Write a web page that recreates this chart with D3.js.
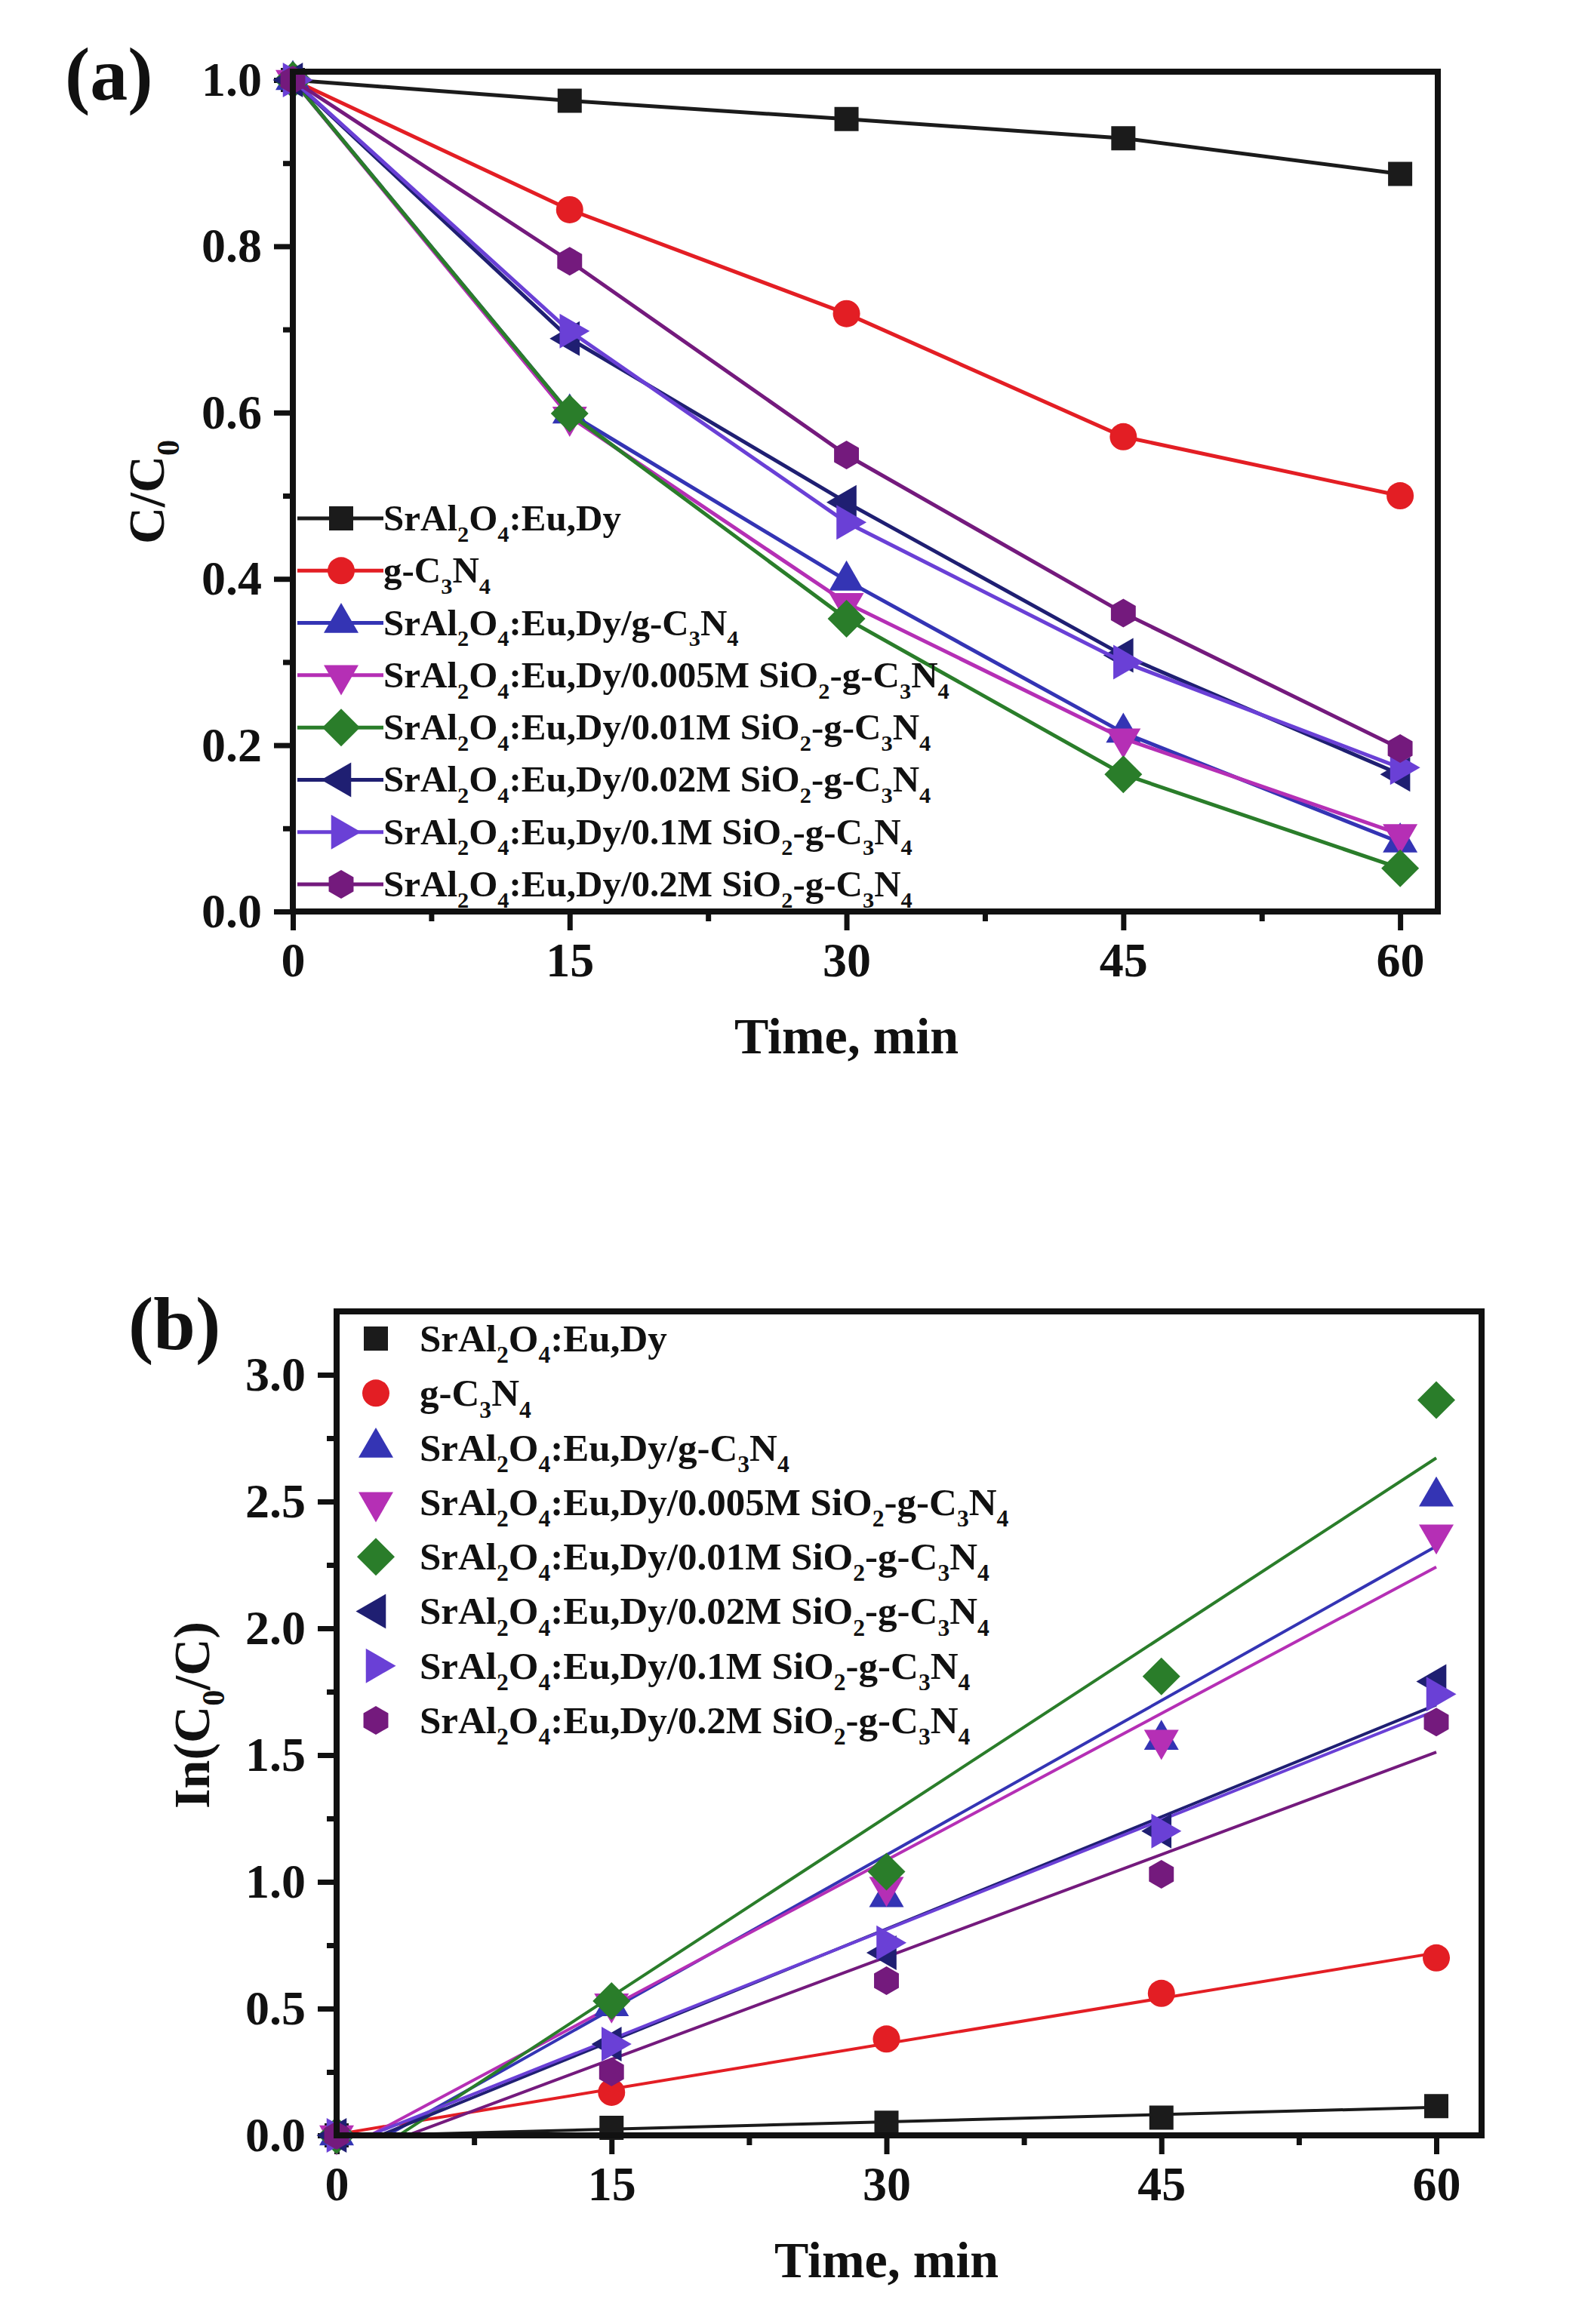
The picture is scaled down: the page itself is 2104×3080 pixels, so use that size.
<!DOCTYPE html>
<html lang="en">
<head>
<meta charset="UTF-8">
<title>Photocatalytic degradation kinetics</title>
<script src="https://d3js.org/d3.v7.min.js"></script>
<style>
    body { margin: 0; background: #fff; }
    text { font-family: "Liberation Serif", "Times New Roman", serif; font-weight: bold; fill: #111; }
    .tick line { stroke: #111; stroke-width: 7px; }
</style>
</head>
<body>
<svg id="chart" width="2104" height="3080"></svg>
<script>
// ---- data ----
var time = [0, 15, 30, 45, 60];
var xTicks = [0, 15, 30, 45, 60];
var xMinor = [7.5, 22.5, 37.5, 52.5];

var seriesNames = [
    "SrAl_2O_4:Eu,Dy",
    "g-C_3N_4",
    "SrAl_2O_4:Eu,Dy/g-C_3N_4",
    "SrAl_2O_4:Eu,Dy/0.005M SiO_2-g-C_3N_4",
    "SrAl_2O_4:Eu,Dy/0.01M SiO_2-g-C_3N_4",
    "SrAl_2O_4:Eu,Dy/0.02M SiO_2-g-C_3N_4",
    "SrAl_2O_4:Eu,Dy/0.1M SiO_2-g-C_3N_4",
    "SrAl_2O_4:Eu,Dy/0.2M SiO_2-g-C_3N_4"
];
var colors = ["#1b1b1b", "#e31e24", "#3434b4", "#b52fb5", "#2a7d2a", "#1f1f72", "#6a40d6", "#741a7d"];
var shapes = ["square", "circle", "up", "down", "diamond", "left", "right", "hexagon"];

// (a) C/C0 vs time
var ratioSrAl   = [1.0, 0.975, 0.953, 0.930, 0.887];
var ratioGCN    = [1.0, 0.844, 0.719, 0.571, 0.500];
var ratioComp   = [1.0, 0.599, 0.398, 0.215, 0.083];
var ratio005    = [1.0, 0.595, 0.371, 0.208, 0.093];
var ratio01     = [1.0, 0.599, 0.352, 0.165, 0.052];
var ratio02     = [1.0, 0.689, 0.492, 0.308, 0.165];
var ratio1      = [1.0, 0.698, 0.468, 0.300, 0.173];
var ratio2      = [1.0, 0.782, 0.549, 0.359, 0.196];
var yTicksA = [0, 0.2, 0.4, 0.6, 0.8, 1.0];
var yMinorA = [0.1, 0.3, 0.5, 0.7, 0.9];

// (b) ln(C0/C) vs time, with linear fits
var lnSrAl = [0, 0.03, 0.05, 0.07, 0.115];
var lnGCN  = [0, 0.17, 0.38, 0.56, 0.70];
var lnComp = [0, 0.51, 0.94, 1.56, 2.52];
var ln005  = [0, 0.52, 0.98, 1.56, 2.37];
var ln01   = [0, 0.53, 1.04, 1.81, 2.90];
var ln02   = [0, 0.36, 0.72, 1.20, 1.79];
var ln1    = [0, 0.36, 0.76, 1.20, 1.74];
var ln2    = [0, 0.25, 0.61, 1.03, 1.63];
var fitSlope     = [0.00191, 0.01193, 0.0406, 0.03853, 0.0472, 0.02947, 0.0288, 0.02693];
var fitIntercept = [-0.004, 0.004, -0.112, -0.070, -0.160, -0.070, -0.052, -0.104];
var yTicksB = [0, 0.5, 1.0, 1.5, 2.0, 2.5, 3.0];
var yMinorB = [0.25, 0.75, 1.25, 1.75, 2.25, 2.75];

var svg = d3.select("#chart");

// marker outline centred on 0,0
function markerPath(shape) {
    var p;
    if (shape === "square") return "M-16,-16H16V16H-16Z";
    if (shape === "circle") return "M18,0A18,18 0 1,1 -18,0A18,18 0 1,1 18,0Z";
    if (shape === "diamond") return "M0,-25L25,0L0,25L-25,0Z";
    if (shape === "hexagon") {
        p = d3.range(6).map(function (k) {
            var a = (-90 + 60 * k) * Math.PI / 180;
            return [19 * Math.cos(a), 19 * Math.sin(a)];
        });
        return "M" + p.join("L") + "Z";
    }
    // triangles: half width 23, centred on centroid
    var a = 23, h = a * Math.sqrt(3);
    p = [[0, -2 * h / 3], [a, h / 3], [-a, h / 3]];
    var rot = { up: 0, down: 180, left: -90, right: 90 }[shape];
    var r = rot * Math.PI / 180;
    p = p.map(function (q) {
        return [q[0] * Math.cos(r) - q[1] * Math.sin(r), q[0] * Math.sin(r) + q[1] * Math.cos(r)];
    });
    return "M" + p.join("L") + "Z";
}

// text with "_n" subscripts
function richText(sel, str, fs) {
    var parts = str.split(/_(\d)/);
    var down = false;
    parts.forEach(function (part, i) {
        if (!part) return;
        var t = sel.append("tspan").text(part);
        if (i % 2) {
            t.attr("font-size", fs * 0.62).attr("dy", down ? 0 : fs * 0.3);
            down = true;
        } else if (down) {
            t.attr("dy", -fs * 0.3);
            down = false;
        }
    });
}

function panel(cfg) {
    var g = svg.append("g");
    var x = d3.scaleLinear().domain(cfg.xDomain).range([cfg.left, cfg.right]);
    var y = d3.scaleLinear().domain(cfg.yDomain).range([cfg.bottom, cfg.top]);

    var clipId = "clip" + cfg.id;
    g.append("clipPath").attr("id", clipId)
        .append("rect")
        .attr("x", cfg.left).attr("y", cfg.top)
        .attr("width", cfg.right - cfg.left).attr("height", cfg.bottom - cfg.top);

    // axes: minor then major ticks, outward
    g.append("g").attr("transform", "translate(0," + cfg.bottom + ")")
        .call(d3.axisBottom(x).tickValues(xMinor).tickSize(13).tickFormat(""))
        .call(function (a) { a.select(".domain").remove(); });
    g.append("g").attr("transform", "translate(0," + cfg.bottom + ")")
        .call(d3.axisBottom(x).tickValues(xTicks).tickSize(25).tickPadding(16).tickFormat(d3.format("d")))
        .call(function (a) {
            a.select(".domain").remove();
            a.selectAll("text").attr("font-size", 64).attr("font-family", null).style("fill", "#111");
        });
    g.append("g").attr("transform", "translate(" + cfg.left + ",0)")
        .call(d3.axisLeft(y).tickValues(cfg.yMinor).tickSize(13).tickFormat(""))
        .call(function (a) { a.select(".domain").remove(); });
    g.append("g").attr("transform", "translate(" + cfg.left + ",0)")
        .call(d3.axisLeft(y).tickValues(cfg.yTicks).tickSize(25).tickPadding(16).tickFormat(d3.format(".1f")))
        .call(function (a) {
            a.select(".domain").remove();
            a.selectAll("text").attr("font-size", 64).attr("font-family", null).style("fill", "#111");
        });

    cfg.draw(g, x, y, "url(#" + clipId + ")");

    // frame
    g.append("rect")
        .attr("x", cfg.left).attr("y", cfg.top)
        .attr("width", cfg.right - cfg.left).attr("height", cfg.bottom - cfg.top)
        .attr("fill", "none").attr("stroke", "#111").attr("stroke-width", 8);

    // titles
    g.append("text").attr("x", cfg.panelX).attr("y", cfg.panelY)
        .attr("font-size", 100).text(cfg.panelLabel);
    g.append("text")
        .attr("x", (x(0) + x(60)) / 2).attr("y", cfg.bottom + 188)
        .attr("text-anchor", "middle").attr("font-size", 68).text("Time, min");
    var yl = g.append("text")
        .attr("transform", "translate(" + cfg.yLabelX + "," + cfg.yLabelY + ") rotate(-90)")
        .attr("text-anchor", "middle").attr("font-size", 68);
    richText(yl, cfg.yLabel, 68);
}

// ---- panel (a) ----
var ratios = [ratioSrAl, ratioGCN, ratioComp, ratio005, ratio01, ratio02, ratio1, ratio2];
panel({
    id: "a", left: 388, right: 1905, top: 95, bottom: 1208,
    xDomain: [0, 62.04], yDomain: [0, 1.01],
    yTicks: yTicksA, yMinor: yMinorA,
    panelLabel: "(a)", panelX: 86, panelY: 132,
    yLabel: "C/C_0", yLabelX: 217, yLabelY: 652,
    draw: function (g, x, y, clip) {
        var line = d3.line().x(function (d, i) { return x(time[i]); }).y(function (d) { return y(d); });
        ratios.forEach(function (vals, s) {
            g.append("path").datum(vals).attr("d", line)
                .attr("fill", "none").attr("stroke", colors[s]).attr("stroke-width", 5);
            g.selectAll(null).data(vals).enter().append("path")
                .attr("d", markerPath(shapes[s]))
                .attr("transform", function (d, i) { return "translate(" + x(time[i]) + "," + y(d) + ")"; })
                .attr("fill", colors[s]);
        });
        // legend with line + marker
        var rowY = d3.scaleLinear().domain([0, 7]).range([687, 1172]);
        seriesNames.forEach(function (name, s) {
            var ly = rowY(s);
            g.append("line").attr("x1", 394).attr("x2", 508).attr("y1", ly).attr("y2", ly)
                .attr("stroke", colors[s]).attr("stroke-width", 5);
            g.append("path").attr("d", markerPath(shapes[s]))
                .attr("transform", "translate(452," + ly + ")").attr("fill", colors[s]);
            var t = g.append("text").attr("x", 508).attr("y", ly + 16).attr("font-size", 49);
            richText(t, name, 49);
        });
    }
});

// ---- panel (b) ----
var lns = [lnSrAl, lnGCN, lnComp, ln005, ln01, ln02, ln1, ln2];
panel({
    id: "b", left: 446, right: 1963, top: 1738, bottom: 2830,
    xDomain: [0, 62.47], yDomain: [0, 3.25],
    yTicks: yTicksB, yMinor: yMinorB,
    panelLabel: "(b)", panelX: 170, panelY: 1788,
    yLabel: "In(C_0/C)", yLabelX: 277, yLabelY: 2273,
    draw: function (g, x, y, clip) {
        lns.forEach(function (vals, s) {
            g.append("line").attr("clip-path", clip)
                .attr("x1", x(0)).attr("y1", y(fitIntercept[s]))
                .attr("x2", x(60)).attr("y2", y(fitIntercept[s] + fitSlope[s] * 60))
                .attr("stroke", colors[s]).attr("stroke-width", 4);
        });
        lns.forEach(function (vals, s) {
            g.selectAll(null).data(vals).enter().append("path")
                .attr("d", markerPath(shapes[s]))
                .attr("transform", function (d, i) { return "translate(" + x(time[i]) + "," + y(d) + ")"; })
                .attr("fill", colors[s]);
        });
        // legend, markers only
        var rowY = d3.scaleLinear().domain([0, 7]).range([1774, 2280]);
        seriesNames.forEach(function (name, s) {
            var ly = rowY(s);
            g.append("path").attr("d", markerPath(shapes[s]))
                .attr("transform", "translate(498," + ly + ")").attr("fill", colors[s]);
            var t = g.append("text").attr("x", 556).attr("y", ly + 17).attr("font-size", 51);
            richText(t, name, 51);
        });
    }
});
</script>
</body>
</html>
